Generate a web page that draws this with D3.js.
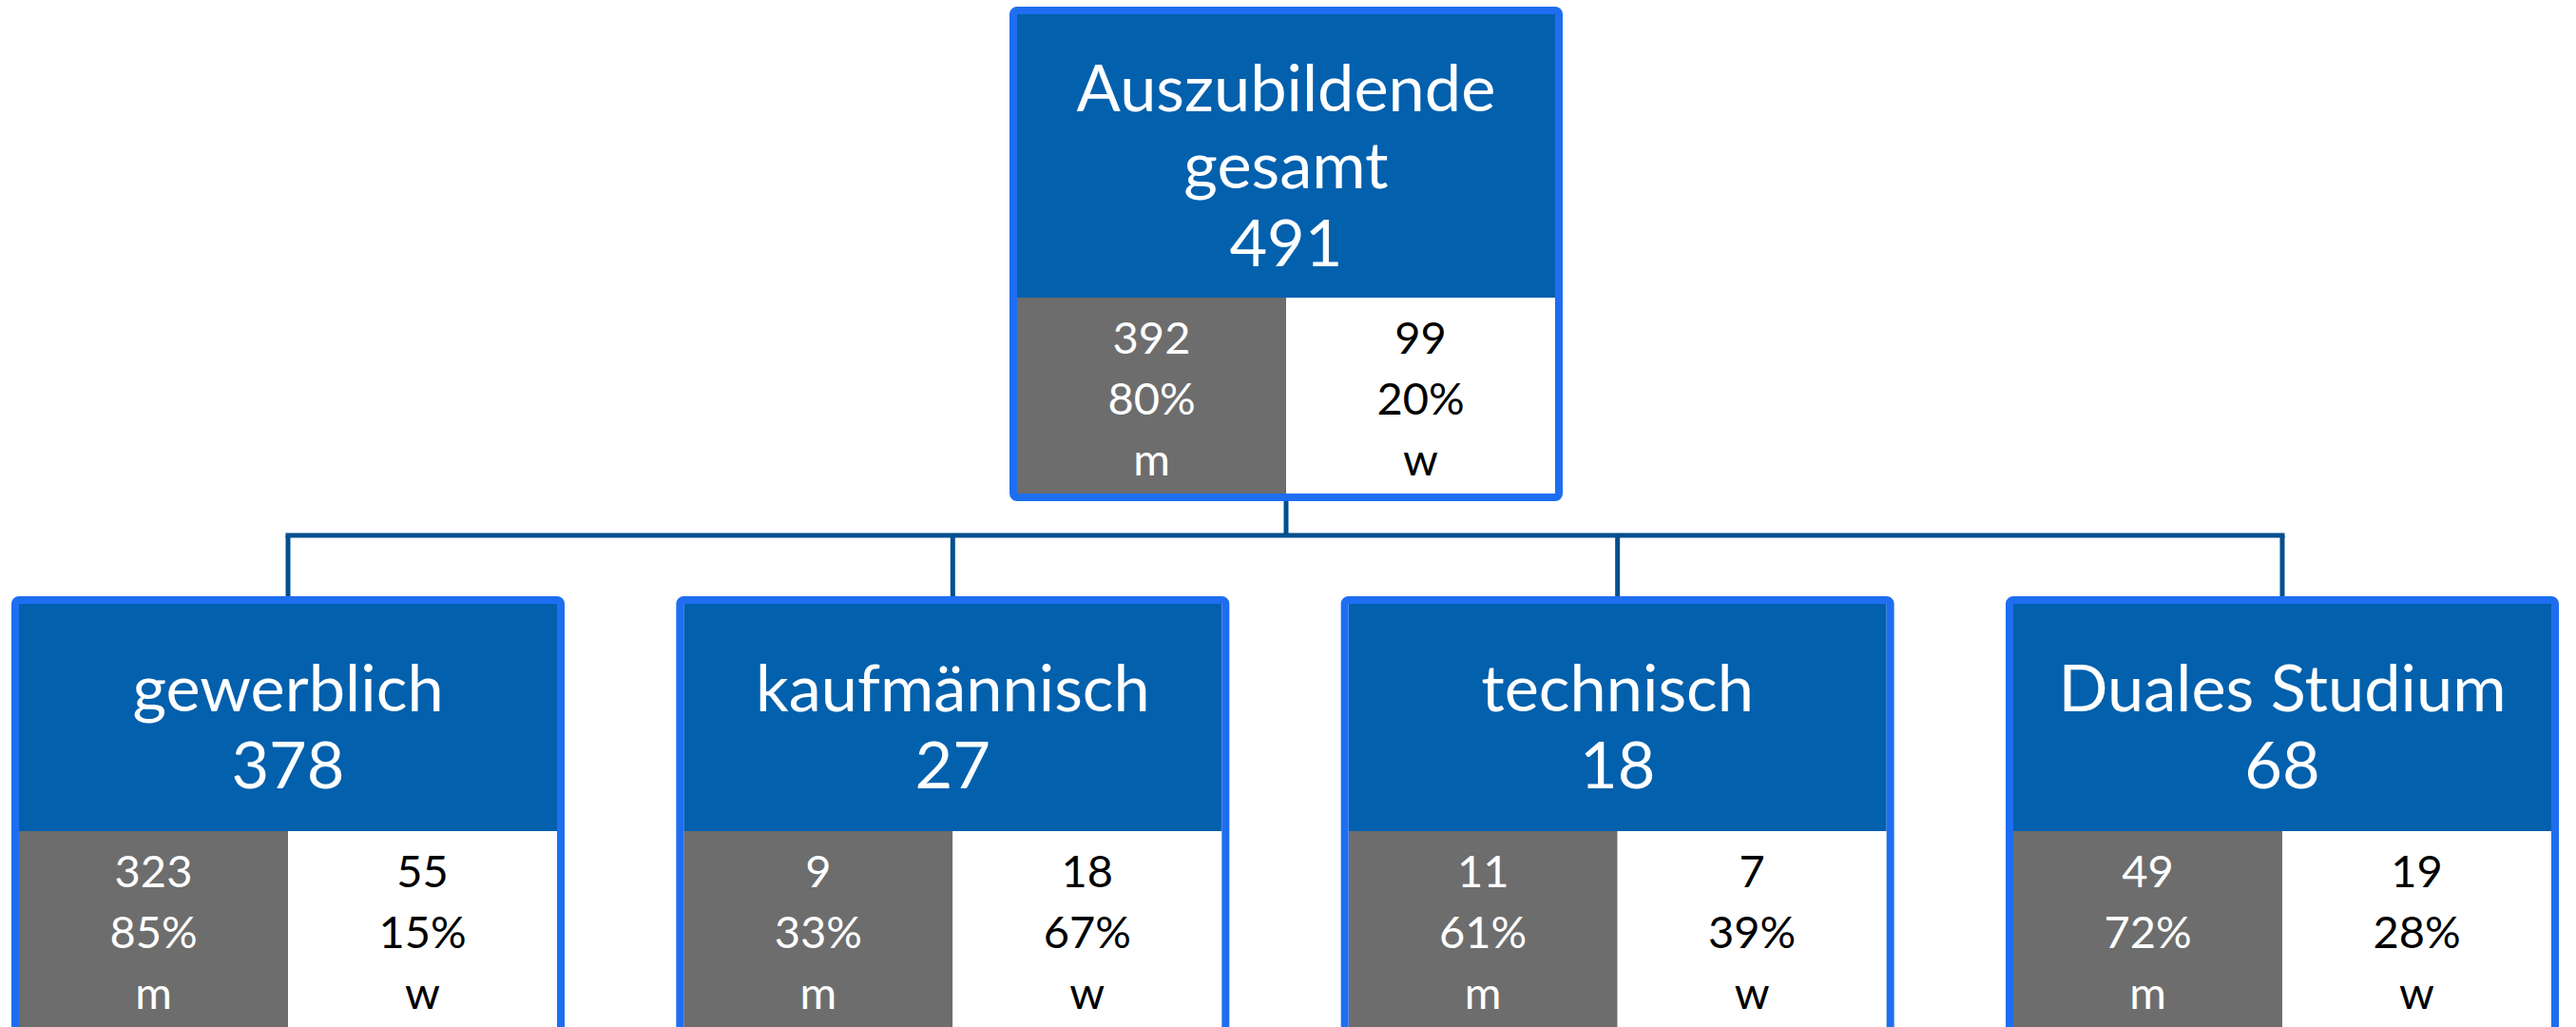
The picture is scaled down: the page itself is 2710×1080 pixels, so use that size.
<!DOCTYPE html>
<html>
<head>
<meta charset="utf-8">
<script src="https://cdn.jsdelivr.net/npm/d3@7"></script>
<style>
  body { margin: 0; background: #fff; }
  svg { display: block; font-family: Lato, "Open Sans", sans-serif; }
</style>
</head>
<body>
<svg id="viz"></svg>
<script>
// root node
const rootLines = ["Auszubildende", "gesamt", "491"];
const rootMale = 392, rootFemale = 99;
const rootMalePct = "80%", rootFemalePct = "20%";

// child nodes
const categories = ["gewerblich", "kaufmännisch", "technisch", "Duales Studium"];
const totals = [378, 27, 18, 68];
const maleCounts = [323, 9, 11, 49];
const femaleCounts = [55, 18, 7, 19];
const malePct = ["85%", "33%", "61%", "72%"];
const femalePct = ["15%", "67%", "39%", "28%"];
const genderLabels = ["m", "w"];

const W = 2710, H = 1080;
const svg = d3.select("#viz").attr("width", W).attr("height", H);

const colors = {
  border: "#1e6ef1",
  header: "#0260ad",
  male: "#6d6d6d",
  female: "#ffffff",
  link: "#034f8e"
};

const boxW = 582, bw = 8;
const x = d3.scalePoint().domain(categories).range([303, 2401]);
const rootX = 1353;

const rootTop = 7, childTop = 627;
const rootHeaderH = 298, childHeaderH = 239, subH = 206;
const linkY = 563;

// connectors
const links = svg.append("g")
  .attr("fill", "none")
  .attr("stroke", colors.link)
  .attr("stroke-width", 5);

links.append("line")
  .attr("x1", rootX).attr("x2", rootX)
  .attr("y1", rootTop + bw * 2 + rootHeaderH + subH).attr("y2", linkY);
links.append("line")
  .attr("x1", x(categories[0])).attr("x2", x(categories[categories.length - 1]))
  .attr("y1", linkY).attr("y2", linkY)
  .attr("stroke-linecap", "square");
links.selectAll(".drop")
  .data(categories)
  .join("line")
  .attr("class", "drop")
  .attr("x1", d => x(d)).attr("x2", d => x(d))
  .attr("y1", linkY).attr("y2", childTop);

function drawNode(cx, top, headerH, lines, sub) {
  const g = svg.append("g");
  const innerL = cx - boxW / 2 + bw;
  const innerW = boxW - bw * 2;
  const innerT = top + bw;
  const half = innerW / 2;

  g.append("rect")
    .attr("x", innerL).attr("y", innerT)
    .attr("width", innerW).attr("height", headerH)
    .attr("fill", colors.header);

  g.append("rect")
    .attr("x", innerL).attr("y", innerT + headerH)
    .attr("width", half).attr("height", subH)
    .attr("fill", colors.male);
  g.append("rect")
    .attr("x", innerL + half).attr("y", innerT + headerH)
    .attr("width", half).attr("height", subH)
    .attr("fill", colors.female);

  g.append("rect")
    .attr("x", cx - boxW / 2 + bw / 2).attr("y", top + bw / 2)
    .attr("width", boxW - bw).attr("height", headerH + subH + bw)
    .attr("rx", 4)
    .attr("fill", "none")
    .attr("stroke", colors.border)
    .attr("stroke-width", bw);

  const mid = innerT + headerH / 2;
  g.selectAll(".head")
    .data(lines)
    .join("text")
    .attr("class", "head")
    .attr("x", cx)
    .attr("y", (d, i) => mid + (i - (lines.length - 1) / 2) * 81.5 + 34)
    .attr("text-anchor", "middle")
    .attr("fill", "#fff")
    .attr("font-size", 68.5)
    .text(d => d);

  const subTop = innerT + headerH;
  sub.forEach((col, j) => {
    g.selectAll(".sub" + j)
      .data(col)
      .join("text")
      .attr("class", "sub" + j)
      .attr("x", innerL + half * j + half / 2)
      .attr("y", (d, i) => subTop + 59 + i * 64)
      .attr("text-anchor", "middle")
      .attr("fill", j === 0 ? "#fff" : "#000")
      .attr("font-size", 47)
      .text(d => d);
  });
}

drawNode(rootX, rootTop, rootHeaderH, rootLines, [
  [rootMale, rootMalePct, genderLabels[0]],
  [rootFemale, rootFemalePct, genderLabels[1]]
]);

categories.forEach((c, i) => {
  drawNode(x(c), childTop, childHeaderH, [c, totals[i]], [
    [maleCounts[i], malePct[i], genderLabels[0]],
    [femaleCounts[i], femalePct[i], genderLabels[1]]
  ]);
});
</script>
</body>
</html>
